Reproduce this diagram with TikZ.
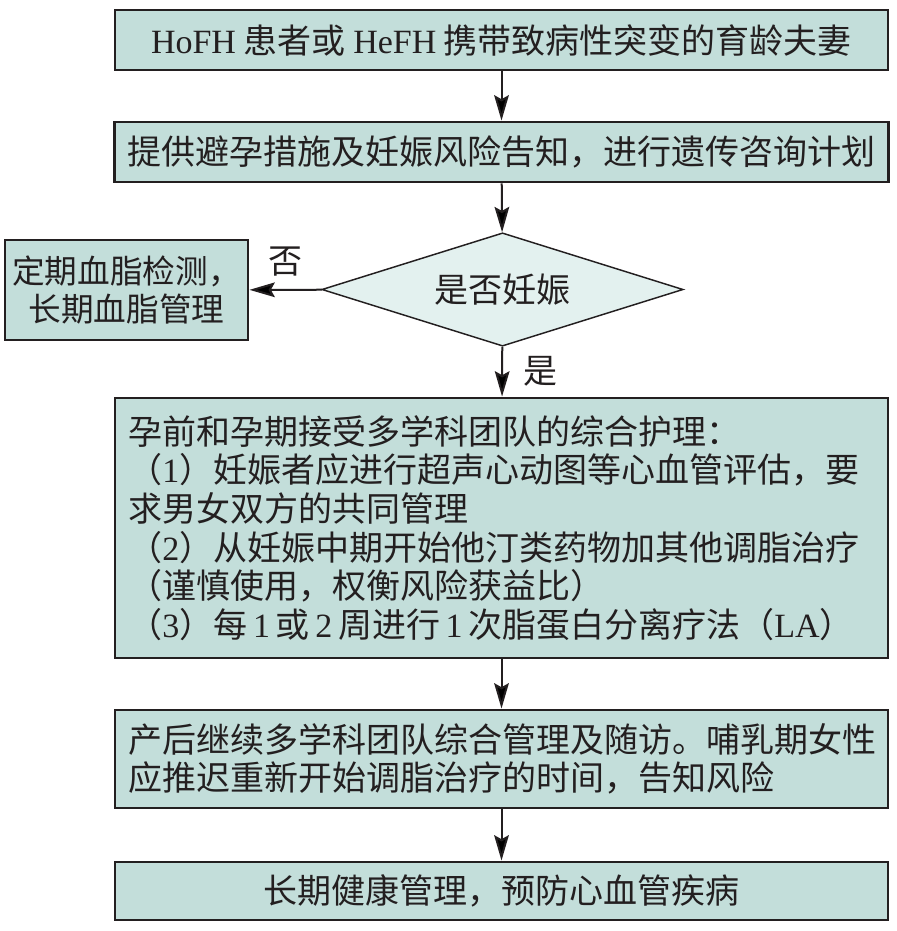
\documentclass[tikz,border=0pt]{standalone}
\usepackage{fontspec}
\setmainfont{Liberation Serif}
\newfontfamily\cjk{Noto Sans CJK SC}
\newcommand{\rmtxt}[1]{{\rmfamily #1}}
\usepackage{tikz}
\usetikzlibrary{shapes.geometric,arrows.meta}
\definecolor{boxfill}{HTML}{C3DEDA}
\definecolor{decfill}{HTML}{E3F1EF}
\definecolor{linecol}{HTML}{231F20}

\begin{document}
\begin{tikzpicture}[x=0.75pt,y=-0.75pt,
		every node/.style={font={\cjk\fontsize{25.5}{29}\selectfont},text=linecol},
		stepbox/.style={draw=linecol,fill=boxfill,line width=2.2pt,rectangle,minimum width=579.75pt,inner xsep=10pt},
		decbox/.style={draw=linecol,fill=decfill,line width=1.1pt,diamond,shape aspect=3.2,inner sep=0pt,minimum width=271pt,minimum height=85pt}]
			\useasboundingbox (0,0) rectangle (896,931);
			\node[stepbox, minimum height=45pt] (couple) at (501.5,40) {\rmtxt{HoFH} 患者或 \rmtxt{HeFH} 携带致病性突变的育龄夫妻};
			\node[stepbox, minimum height=45pt] (consult) at (501.5,152) {提供避孕措施及妊娠风险告知，进行遗传咨询计划};
			\node[decbox] (preg) at (502.5,289.5) {是否妊娠};
			\node[stepbox, minimum width=182.25pt, minimum height=75pt, inner xsep=2pt, align=center,
				font={\cjk\fontsize{24.5}{29}\selectfont}] (monitor) at (126.5,290) {定期血脂检测，\\长期血脂管理};
			\node[stepbox, minimum height=195pt, text width=559.75pt, align=left] (care) at (501.5,528)
				{孕前和孕期接受多学科团队的综合护理：\\
				（\rmtxt{1}）妊娠者应进行超声心动图等心血管评估，要\\
				求男女双方的共同管理\\
				（\rmtxt{2}）从妊娠中期开始他汀类药物加其他调脂治疗\\
				（谨慎使用，权衡风险获益比）\\
				\mbox{（\rmtxt{3}）每\,\rmtxt{1}\,或\,\rmtxt{2}\,周进行\,\rmtxt{1}\,次脂蛋白分离疗法（\rmtxt{LA}）}};
			\node[stepbox, minimum height=73.5pt, text width=559.75pt, align=left] (postpartum) at (501.5,759)
				{产后继续多学科团队综合管理及随访。哺乳期女性\\应推迟重新开始调脂治疗的时间，告知风险};
			\node[stepbox, minimum height=43.5pt] (longterm) at (501.5,891) {长期健康管理，预防心血管疾病};
			\path[-{Stealth[length=19pt,width=11pt,inset=3pt]}, line width=1.5pt, draw=linecol]
			(couple) edge (consult)
			(consult) edge (preg)
			(preg) edge node [above=6pt] {否} (monitor)
			(preg) edge node [right=12pt] {是} (care)
			(care) edge (postpartum)
			(postpartum) edge (longterm);
		\end{tikzpicture}
\end{document}
